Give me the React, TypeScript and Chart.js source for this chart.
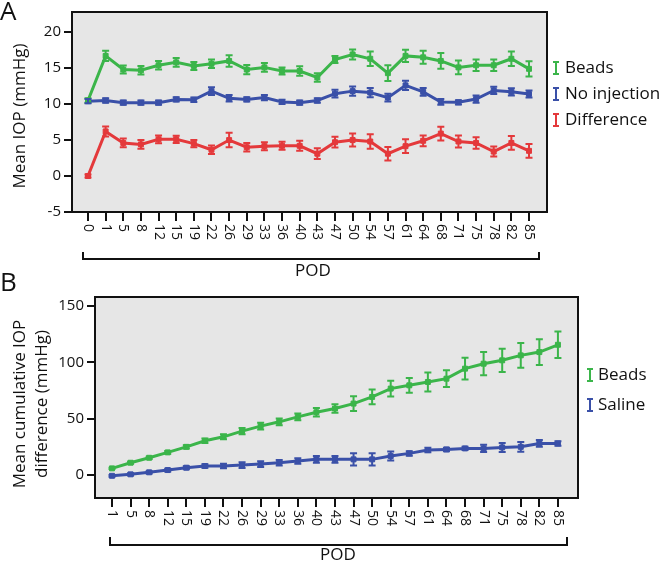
import React, { useEffect, useRef } from "react";
import { Chart, registerables } from "chart.js";
Chart.register(...registerables);

const FONT = "'Open Sans', 'Noto Sans', sans-serif";
const GREEN = "#3BB54A";
const BLUE = "#3A50A8";
const RED = "#E4393B";

// Panel A
const podA = ["0","1","5","8","12","15","19","22","26","29","33","36","40","43","47","50","54","57","61","64","68","71","75","78","82","85"];
const beadsA = [10.5,16.7,14.8,14.7,15.4,15.8,15.3,15.6,16.0,14.8,15.1,14.6,14.6,13.7,16.2,16.9,16.3,14.3,16.7,16.5,16.0,15.1,15.4,15.4,16.3,14.9];
const beadsAErr = [0.3,0.7,0.55,0.6,0.6,0.6,0.55,0.6,0.8,0.65,0.6,0.5,0.65,0.6,0.5,0.7,1.0,1.1,0.85,0.9,1.1,0.95,0.8,0.8,1.0,1.05];
const noInjA = [10.4,10.5,10.2,10.2,10.2,10.65,10.6,11.8,10.8,10.65,10.9,10.3,10.2,10.5,11.45,11.8,11.6,10.9,12.6,11.7,10.3,10.25,10.7,11.9,11.7,11.4];
const noInjAErr = [0.3,0.3,0.3,0.3,0.3,0.3,0.3,0.55,0.45,0.3,0.35,0.3,0.3,0.3,0.55,0.65,0.65,0.55,0.65,0.55,0.4,0.3,0.5,0.5,0.5,0.5];
const diffA = [0,6.2,4.6,4.4,5.1,5.1,4.5,3.65,5.0,4.0,4.15,4.2,4.2,3.1,4.7,5.0,4.8,3.1,4.15,4.9,5.9,4.8,4.6,3.4,4.6,3.5];
const diffAErr = [0.2,0.7,0.6,0.6,0.55,0.5,0.5,0.6,1.0,0.6,0.55,0.55,0.7,0.75,0.75,0.9,1.0,0.95,0.95,0.75,0.95,0.85,0.8,0.7,0.95,0.95];
const yTicksA = [-5,0,5,10,15,20];

// Panel B
const podB = ["1","5","8","12","15","19","22","26","29","33","36","40","43","47","50","54","57","61","64","68","71","75","78","82","85"];
const beadsB = [5.9,10.9,15.3,20.1,25.0,30.4,33.9,39.0,43.4,47.2,51.6,55.7,59.0,63.4,69.3,76.7,79.6,82.6,85.5,94.4,98.8,101.8,106.2,109.1,115.6];
const beadsBErr = [0.6,0.8,1.0,1.2,1.5,2.0,2.2,2.8,3.0,3.0,3.0,3.7,3.7,6.6,6.6,7.0,6.6,8.5,7.4,9.6,10.3,10.3,11.0,11.4,11.8];
const salineB = [-0.7,0.6,2.4,4.4,6.5,8.0,8.0,8.8,9.7,10.9,12.4,13.9,13.9,13.9,13.9,16.8,19.2,22.1,22.7,23.6,23.6,24.5,25.0,28.0,28.0];
const salineBErr = [0.8,1.0,1.0,1.2,1.3,1.5,2.0,2.5,2.5,2.5,2.5,3.0,3.0,5.5,5.5,4.0,2.0,2.0,1.5,1.5,3.2,4.0,4.4,3.0,2.0];
const yTicksB = [0,50,100,150];

type Series = { label: string; color: string; values: number[]; errs: number[] };

type PanelCfg = {
  letter: string;
  letterPos: [number, number];
  offY: number;
  canvasH: number;
  area: { left: number; top: number; right: number; bottom: number };
  xLabels: string[];
  xMin: number;
  xMax: number;
  yMin: number;
  yMax: number;
  yTicks: number[];
  yTitle: string[];
  yTitleX: number[];
  yTitleY: number;
  series: Series[];
  legendGlyphX: number;
  legendTextX: number;
  legendY: number[];
  bracket: { x1: number; x2: number; y: number; h: number };
  pod: [number, number];
};

function makePlugin(cfg: PanelCfg) {
  return {
    id: "panel" + cfg.letter,
    beforeDatasetsDraw(chart: any) {
      const { ctx, chartArea } = chart;
      ctx.save();
      ctx.fillStyle = "#E6E6E6";
      ctx.fillRect(chartArea.left, chartArea.top, chartArea.right - chartArea.left, chartArea.bottom - chartArea.top);
      ctx.restore();
    },
    afterDatasetsDraw(chart: any) {
      const { ctx } = chart;
      const xs = chart.scales.x;
      const ys = chart.scales.y;
      ctx.save();
      cfg.series.forEach((s) => {
        ctx.strokeStyle = s.color;
        ctx.lineWidth = 2;
        s.values.forEach((v, i) => {
          const x = xs.getPixelForValue(i);
          const y1 = ys.getPixelForValue(v + s.errs[i]);
          const y2 = ys.getPixelForValue(v - s.errs[i]);
          ctx.beginPath();
          ctx.moveTo(x, y1);
          ctx.lineTo(x, y2);
          ctx.moveTo(x - 3.5, y1);
          ctx.lineTo(x + 3.5, y1);
          ctx.moveTo(x - 3.5, y2);
          ctx.lineTo(x + 3.5, y2);
          ctx.stroke();
        });
      });
      ctx.restore();
    },
    afterDraw(chart: any) {
      const { ctx, chartArea } = chart;
      const xs = chart.scales.x;
      const o = cfg.offY;
      ctx.save();
      // frame
      ctx.strokeStyle = "#111";
      ctx.lineWidth = 2;
      ctx.strokeRect(chartArea.left, chartArea.top, chartArea.right - chartArea.left, chartArea.bottom - chartArea.top);
      // x ticks and labels
      ctx.fillStyle = "#111";
      ctx.font = `14px ${FONT}`;
      cfg.xLabels.forEach((lab, i) => {
        const x = Math.round(xs.getPixelForValue(i));
        ctx.beginPath();
        ctx.moveTo(x, chartArea.bottom);
        ctx.lineTo(x, chartArea.bottom + 9);
        ctx.stroke();
        ctx.save();
        ctx.translate(x, chartArea.bottom + 12);
        ctx.rotate(Math.PI / 2);
        ctx.textAlign = "left";
        ctx.textBaseline = "middle";
        ctx.fillText(lab, 0, 0);
        ctx.restore();
      });
      // bracket
      const b = cfg.bracket;
      ctx.beginPath();
      ctx.moveTo(b.x1, b.y - b.h - o);
      ctx.lineTo(b.x1, b.y - o);
      ctx.lineTo(b.x2, b.y - o);
      ctx.lineTo(b.x2, b.y - b.h - o);
      ctx.stroke();
      ctx.font = `17px ${FONT}`;
      ctx.textAlign = "center";
      ctx.textBaseline = "middle";
      ctx.fillText("POD", cfg.pod[0], cfg.pod[1] - o);
      // y title
      cfg.yTitle.forEach((t, k) => {
        ctx.save();
        ctx.translate(cfg.yTitleX[k], cfg.yTitleY - o);
        ctx.rotate(-Math.PI / 2);
        ctx.textAlign = "center";
        ctx.textBaseline = "middle";
        ctx.font = `17px ${FONT}`;
        ctx.fillText(t, 0, 0);
        ctx.restore();
      });
      // letter
      ctx.font = `26px ${FONT}`;
      ctx.textAlign = "left";
      ctx.textBaseline = "top";
      ctx.fillText(cfg.letter, cfg.letterPos[0], cfg.letterPos[1] - o);
      // legend
      cfg.series.forEach((s, k) => {
        const y = cfg.legendY[k] - o;
        const gx = cfg.legendGlyphX;
        ctx.strokeStyle = s.color;
        ctx.lineWidth = 2;
        ctx.beginPath();
        ctx.moveTo(gx, y - 6);
        ctx.lineTo(gx, y + 6);
        ctx.moveTo(gx - 3, y - 6);
        ctx.lineTo(gx + 3, y - 6);
        ctx.moveTo(gx - 3, y + 6);
        ctx.lineTo(gx + 3, y + 6);
        ctx.stroke();
        ctx.fillStyle = "#111";
        ctx.font = `17px ${FONT}`;
        ctx.textAlign = "left";
        ctx.textBaseline = "middle";
        ctx.fillText(s.label, cfg.legendTextX, y);
      });
      ctx.restore();
    },
  };
}

function Panel({ cfg, top }: { cfg: PanelCfg; top: number }) {
  const ref = useRef<HTMLCanvasElement>(null);
  useEffect(() => {
    if (!ref.current) return;
    const a = cfg.area;
    const chart = new Chart(ref.current, {
      type: "line",
      data: {
        datasets: cfg.series.map((s) => ({
          label: s.label,
          data: s.values.map((v, i) => ({ x: i, y: v })),
          borderColor: s.color,
          backgroundColor: s.color,
          borderWidth: 3,
          pointStyle: "rect",
          pointRadius: 3.5,
          pointBorderWidth: 1,
          tension: 0,
        })),
      },
      options: {
        animation: false,
        responsive: false,
        devicePixelRatio: 1,
        layout: {
          padding: { left: 0, top: a.top - cfg.offY, right: 660 - a.right, bottom: cfg.canvasH - (a.bottom - cfg.offY) },
        },
        plugins: { legend: { display: false }, tooltip: { enabled: false } },
        scales: {
          x: { type: "linear", display: false, min: cfg.xMin, max: cfg.xMax },
          y: {
            min: cfg.yMin,
            max: cfg.yMax,
            afterBuildTicks: (s: any) => {
              s.ticks = cfg.yTicks.map((v) => ({ value: v }));
            },
            afterFit: (s: any) => {
              s.width = a.left;
            },
            grid: { drawOnChartArea: false, drawTicks: true, tickLength: 8, color: "#111", lineWidth: 2 },
            border: { display: false },
            ticks: { padding: 3, color: "#111", font: { family: FONT, size: 15 } },
          },
        },
      },
      plugins: [makePlugin(cfg)],
    } as any);
    return () => chart.destroy();
  }, [cfg]);
  return (
    <canvas
      ref={ref}
      width={660}
      height={cfg.canvasH}
      style={{ position: "absolute", left: 0, top, width: 660, height: cfg.canvasH, display: "block" }}
    />
  );
}

const cfgA: PanelCfg = {
  letter: "A",
  letterPos: [0, 0],
  offY: 0,
  canvasH: 285,
  area: { left: 72, top: 4, right: 547, bottom: 212 },
  xLabels: podA,
  xMin: -0.907,
  xMax: 26.02,
  yMin: -5,
  yMax: 22.8,
  yTicks: yTicksA,
  yTitle: ["Mean IOP (mmHg)"],
  yTitleX: [20],
  yTitleY: 116,
  series: [
    { label: "Beads", color: GREEN, values: beadsA, errs: beadsAErr },
    { label: "No injection", color: BLUE, values: noInjA, errs: noInjAErr },
    { label: "Difference", color: RED, values: diffA, errs: diffAErr },
  ],
  legendGlyphX: 556,
  legendTextX: 565,
  legendY: [68, 94, 120],
  bracket: { x1: 83, x2: 539, y: 259, h: 7 },
  pod: [313, 271],
};

const cfgB: PanelCfg = {
  letter: "B",
  letterPos: [0, 271],
  offY: 268,
  canvasH: 293,
  area: { left: 95, top: 297, right: 578, bottom: 498 },
  xLabels: podB,
  xMin: -0.915,
  xMax: 25.08,
  yMin: -20.4,
  yMax: 158,
  yTicks: yTicksB,
  yTitle: ["Mean cumulative IOP", "difference (mmHg)"],
  yTitleX: [20, 42],
  yTitleY: 404,
  series: [
    { label: "Beads", color: GREEN, values: beadsB, errs: beadsBErr },
    { label: "Saline", color: BLUE, values: salineB, errs: salineBErr },
  ],
  legendGlyphX: 590,
  legendTextX: 598,
  legendY: [375, 405],
  bracket: { x1: 110, x2: 567, y: 545, h: 8 },
  pod: [338, 555],
};

export default function App() {
  return (
    <div style={{ position: "fixed", left: 0, top: 0, width: 660, height: 561, background: "#fff", overflow: "hidden" }}>
      <Panel cfg={cfgA} top={0} />
      <Panel cfg={cfgB} top={268} />
    </div>
  );
}
